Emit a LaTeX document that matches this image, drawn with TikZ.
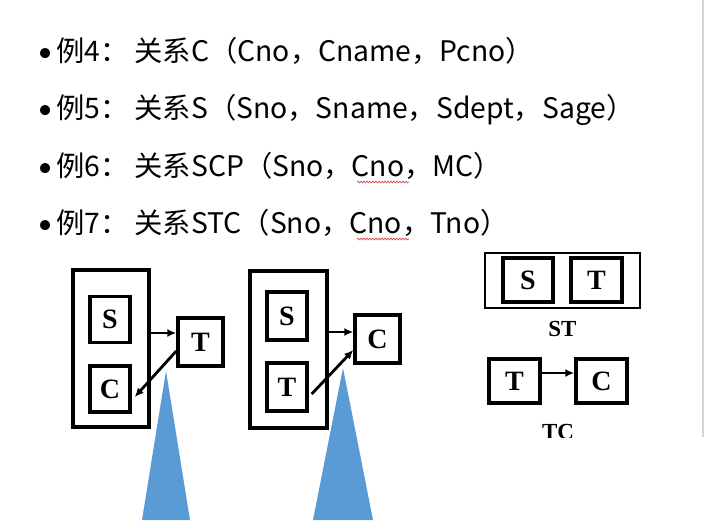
\documentclass[tikz,border=0pt]{standalone}
\usepackage{fontspec}
\setmainfont{Liberation Serif}
\newfontfamily\zhfont{Noto Sans CJK SC}
\newfontfamily\dotfont{Carlito}
\usetikzlibrary{positioning,arrows.meta,calc,decorations.pathmorphing}
\definecolor{triblue}{HTML}{5B9BD5}
\definecolor{edgegray}{HTML}{D4D4D4}
\definecolor{spellred}{HTML}{E0474C}
\newcommand{\dotmark}{{\dotfont •}\hspace{4pt}}
\newcommand{\colgap}{\hspace{6pt}}

\begin{document}
\begin{tikzpicture}[x=1pt, y=-1pt,
    every node/.style={inner sep=0pt},
    lineText/.style={anchor=base west, font=\zhfont\fontsize{28.3}{33}\selectfont},
    letterBox/.style={draw, line width=3.4pt, font=\bfseries\fontsize{28}{30}\selectfont,
        minimum width=40pt, minimum height=46pt},
    outerBox/.style={draw, line width=3.2pt, minimum width=76pt, minimum height=157pt},
    depArrow/.style={-{Latex[length=9pt,width=8pt]}, line width=2.8pt},
    wavyLine/.style={spellred, line width=0.7pt, decorate,
        decoration={snake, amplitude=0.9pt, segment length=3pt}}
]
    \useasboundingbox (0,0) rectangle (709,520);
    \fill[white] (0,0) rectangle (709,520);

    % Righe di testo
    \node[lineText] (ex4) at (38,61)  {\dotmark 例4：\colgap 关系C（Cno，Cname，Pcno）};
    \node[lineText] (ex5) at (38,118) {\dotmark 例5：\colgap 关系S（Sno，Sname，Sdept，Sage）};
    \node[lineText] (ex6) at (38,176) {\dotmark 例6：\colgap 关系SCP（Sno，Cno，MC）};
    \node[lineText] (ex7) at (38,233) {\dotmark 例7：\colgap 关系STC（Sno，Cno，Tno）};
    \draw[wavyLine] (357,182) -- (409,182);
    \draw[wavyLine] (357,239) -- (409,239);

    % Schema 1: (S,C) -> T, T -> C
    \node[outerBox] (outA) at (111,348.5) {};
    \node[letterBox] (sA) at (110,319.5) {S};
    \node[letterBox] (cA) at (110,389) {C};
    \node[letterBox, minimum width=45pt, minimum height=48pt] (tA) at (200.5,342) {T};
    \coordinate (tAin) at ([yshift=9pt]tA.west);
    \coordinate (tAout) at ([yshift=-9pt]tA.west);
    \coordinate (cAin) at ([yshift=-8pt, xshift=3pt]cA.east);
    \draw[depArrow] (outA.east |- tAin) -- (tAin);
    \draw[depArrow] (tAout) -- (cAin);
    \fill[triblue] (166,371) -- (190,520) -- (142,520) -- cycle;

    % Schema 2: (S,T) -> C, T -> C
    \node[outerBox, minimum width=77pt] (outB) at (288.5,349.5) {};
    \node[letterBox, minimum height=48pt] (sB) at (287,316) {S};
    \node[letterBox, minimum height=48pt] (tB) at (287,387) {T};
    \node[letterBox, minimum width=45pt, minimum height=48pt] (cB) at (377.5,339) {C};
    \coordinate (cBin) at ([yshift=7pt]cB.west);
    \coordinate (cBlow) at ([yshift=-11pt]cB.west);
    \coordinate (tBout) at ([yshift=-7pt, xshift=3pt]tB.east);
    \draw[depArrow] (outB.east |- cBin) -- (cBin);
    \draw[depArrow] (tBout) -- (cBlow);
    \fill[triblue] (343,368) -- (373,520) -- (313,520) -- cycle;

    % Schema 3: ST e TC
    \node[draw, line width=2.6pt, minimum width=155pt, minimum height=55pt] (outST) at (562.5,280.5) {};
    \node[letterBox, minimum width=50pt, minimum height=44pt] (sC) at (528,280) {S};
    \node[letterBox, minimum width=51pt, minimum height=44pt] (tC) at (596.5,280) {T};
    \node[font=\bfseries\fontsize{23}{25}\selectfont, below=12pt of outST] (labST) {ST};
    \node[letterBox, minimum width=51pt, minimum height=44pt] (tD) at (514.5,381) {T};
    \node[letterBox, minimum width=51pt, minimum height=44pt] (cD) at (601.5,381) {C};
    \coordinate (tDout) at ([yshift=8pt]tD.east);
    \draw[depArrow] (tDout) -- (cD.west |- tDout);
    \coordinate (midTC) at ($(tD.south)!0.5!(cD.south)$);
    \begin{scope}
        \clip (470,0) rectangle (700,437);
        \node[font=\bfseries\fontsize{23}{25}\selectfont, below=19pt of midTC] (labTC) {TC};
    \end{scope}

    % bordo a destra
    \draw[edgegray, line width=2pt] (703,0) -- (703,437);
\end{tikzpicture}
\end{document}
